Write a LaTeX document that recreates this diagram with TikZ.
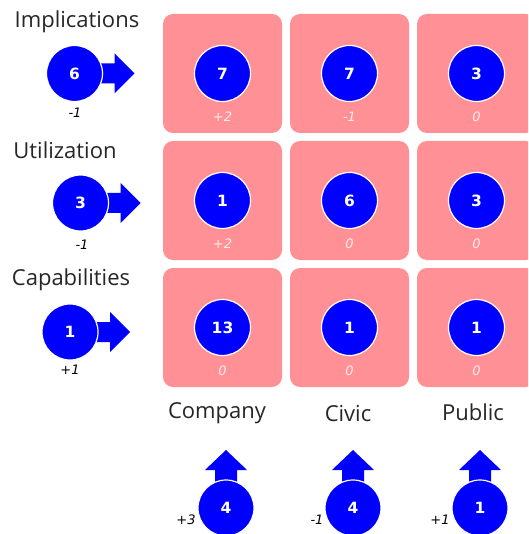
\documentclass[tikz,border=0pt]{standalone}
\usepackage{fontspec}
\setmainfont{Open Sans}
\newfontfamily\numfont{DejaVu Sans}
\definecolor{cellpink}{RGB}{255,145,150}
\definecolor{dotblue}{RGB}{0,0,255}
\definecolor{paletxt}{RGB}{255,236,238}

\tikzset{
  cell/.style={fill=cellpink, rounded corners=10pt, minimum width=119pt,
    minimum height=119pt, inner sep=0pt},
  dot/.style={circle, fill=dotblue, draw=white, line width=1.2pt,
    minimum size=56pt, inner sep=0pt, text=white,
    font=\numfont\bfseries\fontsize{15.5}{15.5}\selectfont},
  headlab/.style={font=\fontsize{22}{25}\selectfont, text=black!85, inner sep=0pt},
  delta/.style={font=\numfont\itshape\fontsize{13}{13}\selectfont, text=black, inner sep=0pt},
  celldelta/.style={font=\numfont\itshape\fontsize{13}{13}\selectfont, text=paletxt, inner sep=0pt},
  rarrow/.pic={\fill[dotblue] (24,-10) -- (40,-10) -- (40,-20) -- (60,0)
      -- (40,20) -- (40,10) -- (24,10) -- cycle;},
  uarrow/.pic={\fill[dotblue] (-11,-24) -- (-11,-38) -- (-21,-38) -- (0,-58)
      -- (21,-38) -- (11,-38) -- (11,-24) -- cycle;}
}

\begin{document}
\begin{tikzpicture}[x=1pt,y=-1pt]
\clip (0,0) rectangle (528,534);
\fill[white] (0,0) rectangle (528,534);

% grid of cells
\foreach \r/\yy in {1/73.5,2/200.5,3/327.5}{
  \foreach \c/\xx in {1/222.5,2/349.5,3/476.5}{
    \node[cell] (cell\r\c) at (\xx,\yy) {};
  }
}

% values inside the cells
\foreach \r/\c/\v/\d in {1/1/7/+2, 1/2/7/-1, 1/3/3/0,
                         2/1/1/+2, 2/2/6/0,  2/3/3/0,
                         3/1/13/0, 3/2/1/0,  3/3/1/0}{
  \node[dot] (v\r\c) at (cell\r\c.center) {\v};
  \node[celldelta] (dv\r\c) at ([yshift=-43pt]cell\r\c.center) {\d};
}

% row headings with their scores
\node[headlab] (hImp) at (77,22) {Implications};
\node[headlab] (hUti) at (65,150) {Utilization};
\node[headlab] (hCap) at (71,280) {Capabilities};

\coordinate (pImp) at (74.5,73.5);
\coordinate (pUti) at (80.5,203);
\coordinate (pCap) at (70,332);
\pic at (pImp) {rarrow};
\pic at (pUti) {rarrow};
\pic at (pCap) {rarrow};
\node[dot] (rImp) at (pImp) {6};
\node[dot] (rUti) at (pUti) {3};
\node[dot] (rCap) at (pCap) {1};
\node[delta] (dImp) at (75,113) {-1};
\node[delta] (dUti) at (82,245) {-1};
\node[delta] (dCap) at (70,370) {+1};

% column headings with their scores
\node[headlab] (hCom) at (217,413) {Company};
\node[headlab] (hCiv) at (348,414) {Civic};
\node[headlab] (hPub) at (473,412) {Public};

\coordinate (pCom) at (226,508);
\coordinate (pCiv) at (353,508);
\coordinate (pPub) at (480,508);
\pic at (pCom) {uarrow};
\pic at (pCiv) {uarrow};
\pic at (pPub) {uarrow};
\node[dot] (bCom) at (pCom) {4};
\node[dot] (bCiv) at (pCiv) {4};
\node[dot] (bPub) at (pPub) {1};
\node[delta] (dCom) at (186,520) {+3};
\node[delta] (dCiv) at (317,520) {-1};
\node[delta] (dPub) at (440,520) {+1};
\end{tikzpicture}
\end{document}
